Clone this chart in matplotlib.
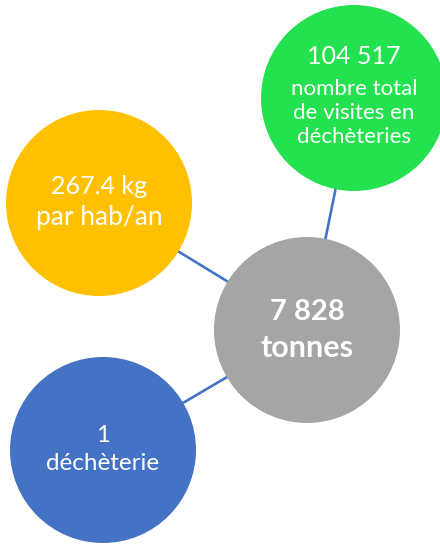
import matplotlib.pyplot as plt
from matplotlib.patches import Circle

# chiffres clés
valeurs = ["104 517", "267.4 kg", "7 828", "1"]
libelles = ["nombre total\nde visites en\ndéchèteries", "par hab/an", "tonnes", "déchèterie"]
couleurs = ["#24E24F", "#FFC000", "#A5A5A5", "#4472C4"]

# mise en page (pixels, origine en haut à gauche)
centres = [(354, 98), (99, 203), (307, 330), (103, 450)]
rayon = 93
centre_idx = 2

plt.rcParams['font.family'] = ['Lato', 'DejaVu Sans']

fig = plt.figure(figsize=(4.4, 5.45), dpi=100)
ax = fig.add_axes([0, 0, 1, 1])
ax.set_xlim(0, 440)
ax.set_ylim(545, 0)
ax.set_aspect('equal')
ax.axis('off')

# liens vers le cercle central
cx, cy = centres[centre_idx]
for i, (x, y) in enumerate(centres):
    if i == centre_idx:
        continue
    ax.plot([x, cx], [y, cy], color="#4472C4", lw=1.9, zorder=1)

for (x, y), c in zip(centres, couleurs):
    ax.add_patch(Circle((x, y), rayon, color=c, zorder=2, lw=0))

# textes
ax.text(354, 57, valeurs[0], ha='center', va='center', color='white', fontsize=18, zorder=3)
ax.text(354, 113, libelles[0], ha='center', va='center', color='white', fontsize=16,
        linespacing=1.22, zorder=3)

ax.text(99, 187, valeurs[1], ha='center', va='center', color='white', fontsize=18, zorder=3)
ax.text(99, 218, libelles[1], ha='center', va='center', color='white', fontsize=19, zorder=3)

ax.text(307, 312, valeurs[2], ha='center', va='center', color='white', fontsize=21,
        fontweight='bold', zorder=3)
ax.text(307, 348, libelles[2], ha='center', va='center', color='white', fontsize=22,
        fontweight='bold', zorder=3)

ax.text(103, 435, valeurs[3], ha='center', va='center', color='white', fontsize=17, zorder=3)
ax.text(103, 463, libelles[3], ha='center', va='center', color='white', fontsize=17.5, zorder=3)

fig.savefig("out.png", dpi=100)
